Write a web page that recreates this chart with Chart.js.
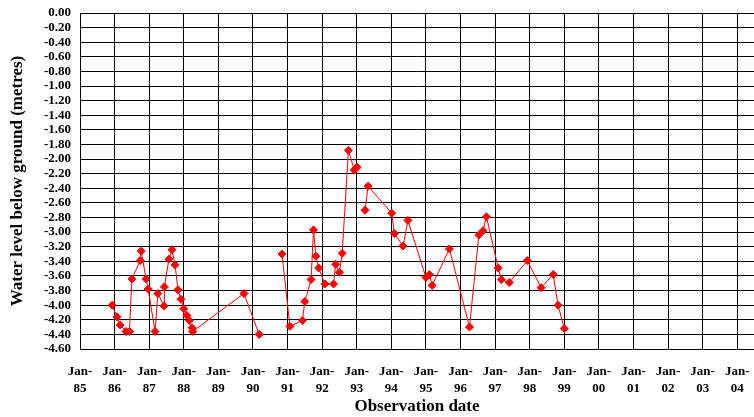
<!DOCTYPE html>
<html>
<head>
<meta charset="utf-8">
<script src="https://cdn.jsdelivr.net/npm/chart.js@4.4.1/dist/chart.umd.min.js"></script>
<style>
  html, body { margin: 0; padding: 0; background: #ffffff; }
  #wrap { width: 754px; height: 417px; position: relative; }
</style>
</head>
<body>
<div id="wrap"><canvas id="c" width="754" height="417"></canvas></div>
<script>
// Observation dates as decimal years (null level = break in the line)
const obsYears = [
  1985.93, 1986.07, 1986.16, 1986.33, 1986.43, 1986.50, 1986.74, 1986.77, 1986.91, 1986.97,
  1987.17, 1987.25, 1987.43, 1987.44, 1987.57, 1987.66, 1987.75, 1987.83, 1987.92, 1988.00,
  1988.09, 1988.16, 1988.24, 1988.26, 1989.74, 1990.18, 1990.50, 1990.84, 1991.07, 1991.43,
  1991.50, 1991.68, 1991.75, 1991.82, 1991.90, 1992.08, 1992.33, 1992.39, 1992.50, 1992.58,
  1992.76, 1992.93, 1992.97, 1993.01, 1993.10, 1993.24, 1993.33, 1994.01, 1994.09, 1994.34,
  1994.48, 1995.00, 1995.10, 1995.18, 1995.68, 1996.26, 1996.53, 1996.65, 1996.75, 1997.09,
  1997.18, 1997.41, 1997.93, 1998.33, 1998.68, 1998.82, 1999.00
];
const waterLevels = [
  -4.00, -4.16, -4.27, -4.36, -4.36, -3.64, -3.39, -3.26, -3.64, -3.78,
  -4.36, -3.84, -4.01, -3.75, -3.37, -3.24, -3.45, -3.79, -3.92, -4.05,
  -4.14, -4.21, -4.31, -4.36, -3.84, -4.40, null, -3.30, -4.29, -4.21,
  -3.95, -3.65, -2.97, -3.33, -3.49, -3.71, -3.71, -3.44, -3.55, -3.29,
  -1.88, -2.15, -2.13, -2.11, null, -2.70, -2.37, -2.74, -3.02, -3.19,
  -2.84, -3.62, -3.58, -3.73, -3.23, -4.30, -3.04, -2.98, -2.79, -3.49,
  -3.65, -3.69, -3.39, -3.76, -3.58, -4.00, -4.32
];
// Tick labels for the yearly x-axis grid
const tickYears = [1985,1986,1987,1988,1989,1990,1991,1992,1993,1994,1995,1996,1997,1998,1999,2000,2001,2002,2003,2004];
const tickLabels = ['85','86','87','88','89','90','91','92','93','94','95','96','97','98','99','00','01','02','03','04'];

const points = obsYears.map((x, i) => ({ x: x, y: waterLevels[i] }));

const fontFam = "'Liberation Serif', 'Times New Roman', serif";

new Chart(document.getElementById('c'), {
  type: 'line',
  data: {
    datasets: [{
      data: points,
      borderColor: '#ff0000',
      backgroundColor: '#ff0000',
      borderWidth: 1,
      pointStyle: 'rectRot',
      pointRadius: 4,
      pointHoverRadius: 4,
      pointBorderWidth: 1,
      spanGaps: false,
      tension: 0
    }]
  },
  options: {
    responsive: false,
    animation: false,
    devicePixelRatio: 1,
    layout: { autoPadding: false, padding: { top: 13, right: 0, bottom: 0, left: 0 } },
    plugins: { legend: { display: false }, tooltip: { enabled: false } },
    scales: {
      x: {
        type: 'linear',
        min: 1985,
        max: 2004.485,
        afterFit: (s) => { s.height = 68; s.paddingLeft = 0; s.paddingRight = 0; },
        grid: { color: '#000000', lineWidth: 1, drawTicks: false },
        border: { color: '#000000', width: 1 },
        ticks: {
          stepSize: 1,
          includeBounds: false,
          autoSkip: false,
          maxRotation: 0,
          padding: 14,
          color: '#000000',
          font: { family: fontFam, size: 13, weight: 'bold', lineHeight: 1.3 },
          callback: (v) => {
            const i = tickYears.indexOf(Math.round(v));
            return i >= 0 ? ['Jan-', tickLabels[i]] : '';
          }
        },
        title: {
          display: true,
          text: 'Observation date',
          color: '#000000',
          font: { family: fontFam, size: 17, weight: 'bold', lineHeight: 1.2 },
          padding: { top: 0, bottom: 0 }
        }
      },
      y: {
        type: 'linear',
        min: -4.6,
        max: 0,
        afterFit: (s) => { s.width = 80; s.paddingTop = 0; s.paddingBottom = 0; },
        grid: { color: '#000000', lineWidth: 1, drawTicks: false },
        border: { color: '#000000', width: 1 },
        ticks: {
          stepSize: 0.2,
          autoSkip: false,
          padding: 9,
          color: '#000000',
          font: { family: fontFam, size: 13, weight: 'bold' },
          callback: (v) => Number(v).toFixed(2)
        },
        title: {
          display: true,
          text: 'Water level below ground (metres)',
          color: '#000000',
          font: { family: fontFam, size: 17, weight: 'bold', lineHeight: 1.2 },
          padding: { top: 7, bottom: 0 }
        }
      }
    }
  }
});
</script>
</body>
</html>
